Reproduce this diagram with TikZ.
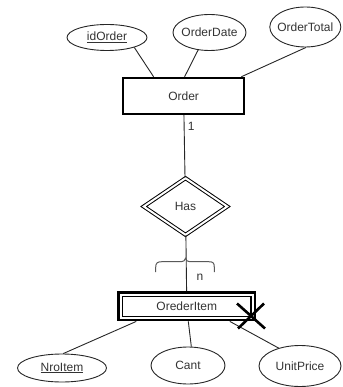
\documentclass[tikz,border=0pt]{standalone}
\usepackage{fontspec}
\setmainfont{Liberation Sans}
\usetikzlibrary{shapes.geometric,calc}
% keep attribute labels from widening their ellipses
\newcommand\attrtext[1]{\makebox[0pt]{#1}}
% key attributes: text with a rule below the baseline
\newcommand\keytext[1]{\setbox0\hbox{#1}\rlap{\rule[-2pt]{\wd0}{0.8pt}}\box0}
\begin{document}
\begin{tikzpicture}[x=1pt,y=-1pt,
  every node/.style={font=\fontsize{12}{14}\selectfont, text=black!80},
  attr/.style={ellipse, draw=black!85, line width=0.9pt, inner sep=0pt},
  entity/.style={rectangle, draw=black, line width=2.5pt, inner sep=0pt},
  innerbox/.style={rectangle, draw=black, line width=1.3pt, inner sep=0pt},
  rel/.style={diamond, draw=black, double, line width=1pt, double distance=2pt, inner sep=0pt},
  link/.style={draw=black!85, line width=0.9pt},
  card/.style={inner sep=1pt, anchor=west},
  bracestroke/.style={draw=black!65, line width=1pt},
  crossstroke/.style={draw=black, line width=2.6pt}
]
\useasboundingbox (0,0) rectangle (342,387);

% Order entity and its attributes
\node[entity, minimum width=121pt, minimum height=36pt] (order) at (183.6,96) {Order};
\node[attr, minimum width=80pt, minimum height=26pt] (idorder) at (107,37.5) {\attrtext{\keytext{idOrder}}};
\node[attr, minimum width=73pt, minimum height=36pt] (odate) at (209.5,32.5) {\attrtext{OrderDate}};
\node[attr, minimum width=71pt, minimum height=40pt] (otot) at (305.3,27) {\attrtext{OrderTotal}};

\draw[link] (idorder.-20) -- ([xshift=-30pt]order.north);
\draw[link] (odate.237) -- ([xshift=1pt]order.north);
\draw[link] (otot.-88) -- ([xshift=-4pt]order.north east);

% identifying relationship
\node[rel, minimum width=84pt, minimum height=57pt] (has) at (185.5,206.5) {Has};

% weak entity with double frame
\node[entity, line width=2.7pt, minimum width=136.3pt, minimum height=27.7pt] (item) at (186.8,306.2) {OrederItem};
\node[innerbox, minimum width=128.3pt, minimum height=20pt] (itemin) at (item.center) {};

\draw[link] (order) -- node[card, pos=0.17, xshift=2.4pt] {1} (has);
\draw[link] (has) -- node[card, pos=0.75, xshift=8.7pt] {n} (item);

% brace over the many side
\coordinate (bt) at (185.5,258.3);
\begin{scope}[shift={(bt)}]
  \draw[bracestroke] (-29.8,13.7) -- (-29.8,9) .. controls (-29.8,4.5) and (-28,3.4) .. (-23.5,3.4)
    -- (-6,3.4) .. controls (-2,3.4) and (0,2.2) .. (0,0)
    .. controls (0,2.2) and (2,3.4) .. (6,3.4) -- (23,3.4)
    .. controls (27.5,3.4) and (28.8,4.5) .. (28.8,9) -- (28.8,13.7);
\end{scope}

% OrederItem attributes
\node[attr, minimum width=89pt, minimum height=28pt] (nro) at (62,368) {\attrtext{\keytext{NroItem}}};
\node[attr, minimum width=74pt, minimum height=37pt] (cant) at (188,365.5) {\attrtext{Cant}};
\node[attr, minimum width=82pt, minimum height=41pt] (uprice) at (300,366) {\attrtext{UnitPrice}};

\draw[link] ([xshift=19pt]item.south west) -- (nro.85);
\draw[link] ([xshift=1.5pt]item.south) -- (cant.80);
\draw[link] ([xshift=43pt]item.south) -- (uprice.140);

% cross mark on the weak entity
\coordinate (xmark) at (251,316);
\draw[crossstroke] ($(xmark)+(-14,-12.5)$) -- ($(xmark)+(14,12.5)$);
\draw[crossstroke] ($(xmark)+(13,-12.5)$) -- ($(xmark)+(-13,12.5)$);
\end{tikzpicture}
\end{document}
